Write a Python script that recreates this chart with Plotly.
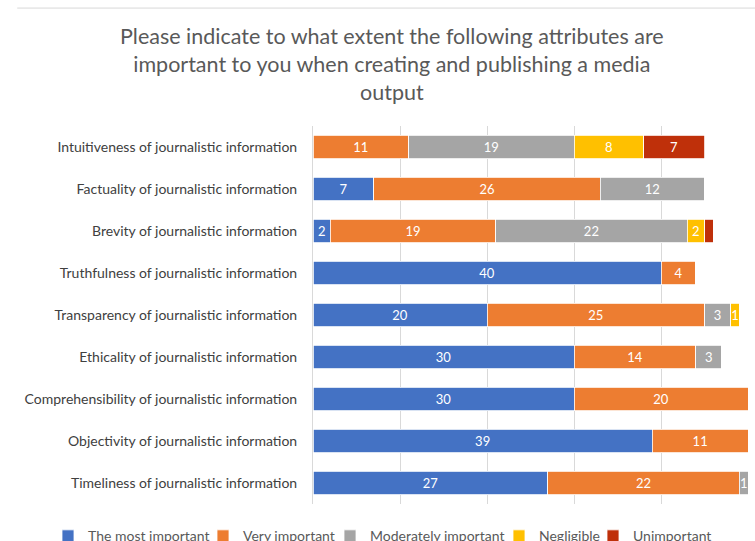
import plotly.graph_objects as go

# Attributes, listed top to bottom
categories = [
    "Intuitiveness of journalistic information",
    "Factuality of journalistic information",
    "Brevity of journalistic information",
    "Truthfulness of journalistic information",
    "Transparency of journalistic information",
    "Ethicality of journalistic information",
    "Comprehensibility of journalistic information",
    "Objectivity of journalistic information",
    "Timeliness of journalistic information",
]

series_names = ["The most important", "Very important", "Moderately important",
                "Negligible", "Unimportant"]

most_important = [0, 7, 2, 40, 20, 30, 30, 39, 27]
very_important = [11, 26, 19, 4, 25, 14, 20, 11, 22]
moderately_important = [19, 12, 22, 0, 3, 3, 0, 0, 1]
negligible = [8, 0, 2, 0, 1, 0, 0, 0, 0]
unimportant = [7, 0, 1, 0, 0, 0, 0, 0, 0]

# which segments carry a visible value label
unimportant_labelled = [True, False, False, False, False, False, False, False, False]

colors = ["#4472C4", "#ED7D31", "#A5A5A5", "#FFC000", "#BF300A"]
values = [most_important, very_important, moderately_important, negligible, unimportant]

FONT = "Lato"
TEXT_GREY = "#595959"
W, H = 755, 541

# one single-entry legend per series, laid out in a row under the chart
legend_ids = ["legend", "legend2", "legend3", "legend4", "legend5"]
legend_left_px = [48, 203, 330, 499, 593]

fig = go.Figure()
for name, vals, col, lid in zip(series_names, values, colors, legend_ids):
    if name == "Unimportant":
        labels = [str(v) if (v and show) else "" for v, show in zip(vals, unimportant_labelled)]
    else:
        labels = [str(v) if v else "" for v in vals]
    fig.add_trace(go.Bar(
        y=categories,
        x=vals,
        name=name,
        legend=lid,
        showlegend=True,
        orientation="h",
        marker=dict(color=col, line=dict(color="#FFFFFF", width=0.8)),
        text=labels,
        textposition="inside",
        insidetextanchor="middle",
        textangle=0,
        textfont=dict(color="white", size=13, family=FONT),
    ))

legend_layout = {}
for lid, left in zip(legend_ids, legend_left_px):
    legend_layout[lid] = dict(
        orientation="h",
        xref="container",
        x=left / W, xanchor="left",
        y=-0.043, yanchor="top",
        font=dict(family=FONT, size=14, color=TEXT_GREY),
        itemwidth=30,
        bgcolor="rgba(0,0,0,0)",
    )

fig.update_layout(
    width=W,
    height=H,
    showlegend=True,
    barmode="stack",
    bargap=0.43,
    paper_bgcolor="white",
    plot_bgcolor="white",
    margin=dict(l=313, r=7, t=126, b=37, autoexpand=False),
    uniformtext=dict(minsize=13, mode="show"),
    title=dict(
        text="Please indicate to what extent the following attributes are<br>"
             "important to you when creating and publishing a media<br>output",
        x=0.519, xanchor="center",
        y=0.919, yanchor="middle",
        font=dict(family=FONT, size=21.5, color=TEXT_GREY),
    ),
    xaxis=dict(
        range=[0, 50],
        dtick=10,
        showticklabels=False,
        showgrid=True,
        gridcolor="#D9D9D9",
        gridwidth=1,
        zeroline=False,
        fixedrange=True,
    ),
    yaxis=dict(
        autorange="reversed",
        showline=True,
        linecolor="#D9D9D9",
        linewidth=1,
        ticks="",
        ticklabelstandoff=12,
        tickfont=dict(family=FONT, size=14, color="#404040"),
    ),
    shapes=[
        dict(type="line", xref="paper", yref="paper",
             x0=-0.68, x1=1.02, y0=1.312, y1=1.312,
             line=dict(color="#D9D9D9", width=1)),
    ],
    **legend_layout,
)

fig.write_html("out.html")
